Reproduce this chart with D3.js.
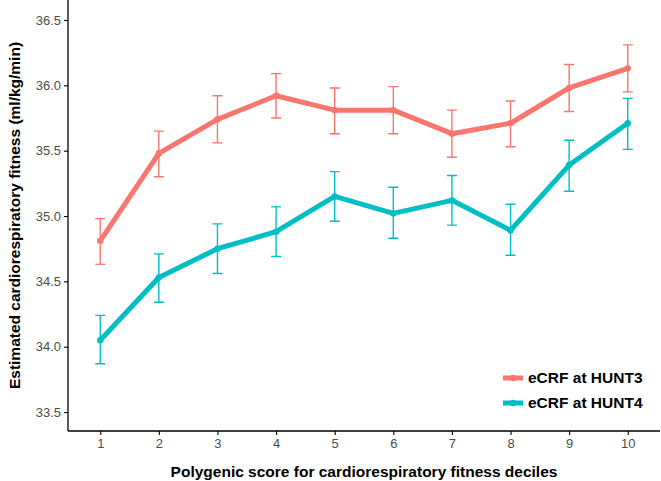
<!DOCTYPE html>
<html>
<head>
<meta charset="utf-8">
<script src="https://cdn.jsdelivr.net/npm/d3@7"></script>
<style>
  body { margin: 0; background: #fff; }
  svg { display: block; font-family: "Liberation Sans", Arial, sans-serif; }
</style>
</head>
<body>
<div id="chart"></div>
<script>
// deciles of the polygenic score
var deciles = [1, 2, 3, 4, 5, 6, 7, 8, 9, 10];

// eCRF at HUNT3
var hunt3Mean  = [34.81, 35.48, 35.74, 35.92, 35.81, 35.81, 35.63, 35.71, 35.98, 36.13];
var hunt3Lower = [34.63, 35.30, 35.56, 35.75, 35.63, 35.63, 35.45, 35.53, 35.80, 35.95];
var hunt3Upper = [34.98, 35.65, 35.92, 36.09, 35.98, 35.99, 35.81, 35.88, 36.16, 36.31];

// eCRF at HUNT4
var hunt4Mean  = [34.05, 34.53, 34.75, 34.88, 35.15, 35.02, 35.12, 34.89, 35.39, 35.71];
var hunt4Lower = [33.87, 34.34, 34.56, 34.69, 34.96, 34.83, 34.93, 34.70, 35.19, 35.51];
var hunt4Upper = [34.24, 34.71, 34.94, 35.07, 35.34, 35.22, 35.31, 35.09, 35.58, 35.90];

var yTicks = [33.5, 34.0, 34.5, 35.0, 35.5, 36.0, 36.5];
var seriesNames = ["eCRF at HUNT3", "eCRF at HUNT4"];
var colors = ["#F8766D", "#00BFC4"];

var W = 661, H = 481;
// plot panel edges (window.top is read-only, so no "top" here)
var pLeft = 68, pRight = 660, pTop = 0, pBottom = 431;

var svg = d3.select("#chart").append("svg")
    .attr("width", W)
    .attr("height", H);

var x = d3.scaleLinear().domain([0.45, 10.55]).range([pLeft, pRight]);
var y = d3.scaleLinear().domain([33.355, 36.653]).range([pBottom, pTop]);

function rows(mean, lo, hi) {
    return deciles.map(function(d, i) {
        return {x: d, m: mean[i], lo: lo[i], hi: hi[i]};
    });
}
var series = [rows(hunt3Mean, hunt3Lower, hunt3Upper), rows(hunt4Mean, hunt4Lower, hunt4Upper)];

// axes
var yAxis = svg.append("g")
    .attr("transform", "translate(" + pLeft + ",0)")
    .call(d3.axisLeft(y).tickValues(yTicks).tickFormat(d3.format(".1f")).tickSize(4).tickPadding(3));
var xAxis = svg.append("g")
    .attr("transform", "translate(0," + pBottom + ")")
    .call(d3.axisBottom(x).tickValues(deciles).tickSize(4).tickPadding(4));

[xAxis, yAxis].forEach(function(g) {
    g.select(".domain").attr("stroke", "#000").attr("stroke-width", 1.3);
    g.selectAll(".tick line").attr("stroke", "#000").attr("stroke-width", 1.1);
    g.selectAll(".tick text")
        .attr("fill", "#4D4D4D")
        .attr("font-size", 13)
        .attr("font-family", "Liberation Sans, Arial, sans-serif");
});
// axis lines run to the panel edges
yAxis.select(".domain").attr("d", "M0," + pBottom + "V" + pTop);
xAxis.select(".domain").attr("d", "M" + pLeft + ",0H" + pRight);

// axis titles
svg.append("text")
    .attr("x", (pLeft + pRight) / 2)
    .attr("y", 477)
    .attr("text-anchor", "middle")
    .attr("font-size", 15.5)
    .attr("font-weight", "bold")
    .text("Polygenic score for cardiorespiratory fitness deciles");

svg.append("text")
    .attr("transform", "translate(20," + ((pTop + pBottom) / 2) + ") rotate(-90)")
    .attr("text-anchor", "middle")
    .attr("font-size", 15.5)
    .attr("font-weight", "bold")
    .text("Estimated cardiorespiratory fitness (ml/kg/min)");

var line = d3.line()
    .x(function(d) { return x(d.x); })
    .y(function(d) { return y(d.m); });

series.forEach(function(data, k) {
    var g = svg.append("g");
    // error bars
    g.selectAll("path.err").data(data).enter().append("path")
        .attr("class", "err")
        .attr("fill", "none")
        .attr("stroke", colors[k])
        .attr("stroke-width", 1.4)
        .attr("d", function(d) {
            var cx = x(d.x), w = 5;
            return "M" + (cx - w) + "," + y(d.hi) + "H" + (cx + w) +
                   "M" + cx + "," + y(d.hi) + "V" + y(d.lo) +
                   "M" + (cx - w) + "," + y(d.lo) + "H" + (cx + w);
        });
    g.append("path")
        .datum(data)
        .attr("fill", "none")
        .attr("stroke", colors[k])
        .attr("stroke-width", 5)
        .attr("stroke-linejoin", "round")
        .attr("d", line);
    g.selectAll("circle").data(data).enter().append("circle")
        .attr("cx", function(d) { return x(d.x); })
        .attr("cy", function(d) { return y(d.m); })
        .attr("r", 3.2)
        .attr("fill", colors[k]);
});

// legend
var legend = svg.append("g").attr("transform", "translate(503,378)");
seriesNames.forEach(function(name, k) {
    var row = legend.append("g").attr("transform", "translate(0," + (k * 25) + ")");
    row.append("line")
        .attr("x1", 0).attr("x2", 20)
        .attr("stroke", colors[k])
        .attr("stroke-width", 5);
    row.append("circle")
        .attr("cx", 10).attr("r", 3.2)
        .attr("fill", colors[k]);
    row.append("text")
        .attr("x", 25)
        .attr("dy", "0.35em")
        .attr("font-size", 15.5)
        .attr("font-weight", "bold")
        .text(name);
});
</script>
</body>
</html>
